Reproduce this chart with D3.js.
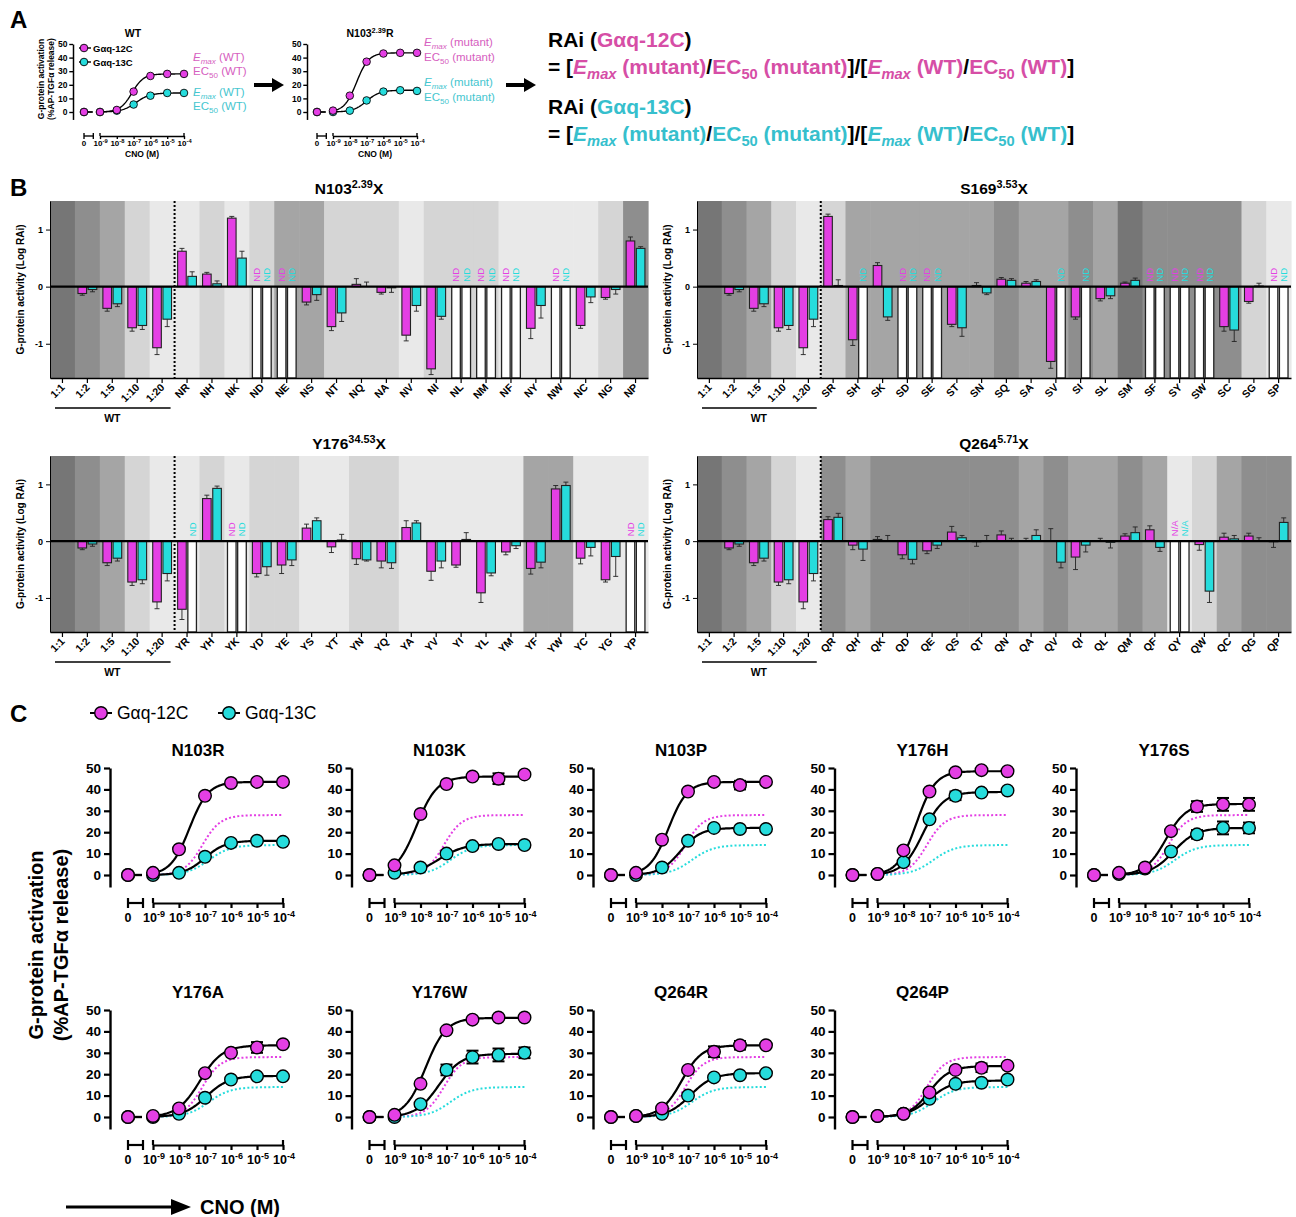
<!DOCTYPE html>
<html><head><meta charset="utf-8">
<script src="https://cdn.jsdelivr.net/npm/d3@7"></script>
<style>body{margin:0;background:#fff}svg{display:block}</style>
</head><body><svg id="fig" width="1296" height="1217"></svg>
<script>
// ================= DATA =================
const doses = [0, 1e-9, 1e-8, 1e-7, 1e-6, 1e-5, 1e-4];
const doseTicks = [1e-9, 1e-8, 1e-7, 1e-6, 1e-5, 1e-4];
const doseExp = ["-9", "-8", "-7", "-6", "-5", "-4"];
const yTicksDR = [0, 10, 20, 30, 40, 50];

// Panel A (WT and N103R concentration-response)
const wt12 = [0, 0, 1.5, 15, 26.5, 28, 28];
const wt13 = [0, 0, 1, 5.5, 12, 14, 14];
const wtTop = [28, 14];          // [12C, 13C]
const wtLogEC50 = [-7.1, -6.85];
const wtHill = [1.25, 1.05];

// Panel B (log RAi)
const wtCats = ["1:1", "1:2", "1:5", "1:10", "1:20"];
const wtRai12 = [0, -0.12, -0.38, -0.72, -1.07];
const wtRai13 = [0, -0.05, -0.30, -0.68, -0.57];
const wtErr12 = [0, 0.03, 0.05, 0.06, 0.12];
const wtErr13 = [0, 0.04, 0.05, 0.07, 0.13];
const wtShade = [0, 1, 2, 3, 4];

const n103Cats = ["NR","NH","NK","ND","NE","NS","NT","NQ","NA","NV","NI","NL","NM","NF","NY","NW","NC","NG","NP"];
const n103R12 = [0.62,0.22,1.20,null,null,-0.27,-0.70,0.04,-0.10,-0.85,-1.44,null,null,null,-0.73,null,-0.68,-0.19,0.80];
const n103R13 = [0.18,0.05,0.50,null,null,-0.14,-0.46,0.00,-0.02,-0.33,-0.52,null,null,null,-0.33,null,-0.18,-0.05,0.67];
const n103E12 = [0.05,0.03,0.03,0,0,0.05,0.07,0.10,0.03,0.10,0.10,0,0,0,0.18,0,0.05,0.03,0.07];
const n103E13 = [0.08,0.05,0.12,0,0,0.10,0.15,0.08,0.08,0.10,0.05,0,0,0,0.22,0,0.10,0.08,0.03];
const n103Shade = [4,3,4,3,2,2,3,3,3,4,3,3,3,4,4,4,4,3,1];

const s169Cats = ["SR","SH","SK","SD","SE","ST","SN","SQ","SA","SV","SI","SL","SM","SF","SY","SW","SC","SG","SP"];
const s169R12 = [1.23,-0.93,0.37,null,null,-0.66,0.02,0.13,0.06,-1.31,-0.53,-0.21,0.06,null,null,null,-0.70,-0.26,null];
const s169R13 = [0.02,null,-0.53,null,null,-0.72,-0.11,0.11,0.09,null,null,-0.16,0.11,null,null,null,-0.76,0.01,null];
const s169E12 = [0.04,0.10,0.05,0,0,0.04,0.05,0.03,0.03,0.12,0.04,0.04,0.02,0,0,0,0.08,0.03,0];
const s169E13 = [0.10,0,0.06,0,0,0.15,0.03,0.03,0.03,0,0,0.05,0.04,0,0,0,0.20,0.05,0];
const s169Shade = [3,2,2,2,2,2,2,1,2,2,1,2,0,1,1,1,1,3,4];

const y176Cats = ["YR","YH","YK","YD","YE","YS","YT","YN","YQ","YA","YV","YI","YL","YM","YF","YW","YC","YG","YP"];
const y176R12 = [-1.20,0.75,null,-0.57,-0.42,0.23,-0.10,-0.31,-0.35,0.24,-0.53,-0.42,-0.91,-0.19,-0.48,0.92,-0.30,-0.68,null];
const y176R13 = [null,0.93,null,-0.45,-0.33,0.36,0.02,-0.33,-0.38,0.32,-0.35,0.03,-0.56,-0.08,-0.37,0.98,-0.11,-0.27,null];
const y176E12 = [0.18,0.06,0,0.06,0.15,0.07,0.10,0.10,0.12,0.12,0.16,0.04,0.17,0.05,0.10,0.06,0.10,0.04,0];
const y176E13 = [0,0.04,0,0.15,0.10,0.05,0.10,0.02,0.10,0.04,0.12,0.12,0.05,0.05,0.10,0.06,0.15,0.35,0];
const y176Shade = [4,3,4,3,3,4,4,3,3,4,4,4,4,4,2,2,4,4,4];

const q264Cats = ["QR","QH","QK","QD","QE","QS","QT","QN","QA","QV","QI","QL","QM","QF","QY","QW","QC","QG","QP"];
const q264R12 = [0.38,-0.07,0.03,-0.24,-0.17,0.16,-0.01,0.11,0.00,0.00,-0.28,0.00,0.09,0.20,null,-0.06,0.07,0.09,-0.01];
const q264R13 = [0.42,-0.14,0.00,-0.32,-0.07,0.06,0.00,0.00,0.10,-0.37,-0.07,-0.02,0.15,-0.11,null,-0.88,0.04,0.01,0.33];
const q264E12 = [0.05,0.08,0.05,0.07,0.05,0.10,0.08,0.07,0.05,0.22,0.22,0.05,0.04,0.07,0,0.10,0.07,0.05,0.10];
const q264E13 = [0.07,0.20,0.10,0.08,0.06,0.04,0.10,0.05,0.10,0.10,0.12,0.10,0.10,0.07,0,0.20,0.06,0.05,0.08];
const q264Shade = [1,2,1,1,1,1,1,1,2,1,2,2,1,2,4,3,2,1,1];

// Panel C (concentration-response of selected mutants)
const cTitles = ["N103R","N103K","N103P","Y176H","Y176S","Y176A","Y176W","Q264R","Q264P"];
const c12 = [
  [0,1,12,37,43,43.5,43.5],
  [0,4.5,28.5,42.5,46,45,47],
  [0,1,16.5,39,43.5,42,43.5],
  [0,0.5,11.5,39,48,49,48.5],
  [0,1,3.5,20.5,32,33,33],
  [0,0.5,4,20.5,30,32.5,34],
  [0,1,15.5,40.5,45.5,46.5,46.5],
  [0,0.5,4,22,30.5,33.5,33.5],
  [0,0.5,1.5,11.5,22,23,24]];
const c12Err = [
  [0,0,0,0,0,0,0],
  [0,0,0,0,0,2.5,0],
  [0,0,0,0,0,2,0],
  [0,0,0,0,0,0,0],
  [0,0,0,0,2.5,3,3],
  [0,0,0,0,0,2.5,0],
  [0,0,0,0,0,0,0],
  [0,0,0,0,2.5,2,0],
  [0,0,0,0,0,2,0]];
const c13 = [
  [0,0,1,8.5,15,16,15.5],
  [0,1,3.5,10,13.5,14.5,14],
  [0,0,3.5,16,22,21.5,21.5],
  [0,0.5,6,26,37,38.5,39.5],
  [0,0.5,3,11,19,22,22],
  [0,0,1.5,9,17.5,19,19],
  [0,0,6,22,28,29,30],
  [0,0.5,1.5,10,18.5,19.5,20.5],
  [0,0.5,1.5,8.5,15.5,16,17.5]];
const c13Err = [
  [0,0,0,0,0,0,0],
  [0,0,0,0,0,0,0],
  [0,0,0,0,0,0,0],
  [0,0,0,0,2,0,0],
  [0,0,0,0,2,3,2.5],
  [0,0,0,0,0,0,0],
  [0,0,0,2.5,3,3,2.5],
  [0,0,0,0,0,0,0],
  [0,0,0,0,0,0,0]];
const c12Top = [43.5,46,43.5,48.5,33.2,33.5,46.3,33.5,23.8];
const c12LogEC50 = [-7.6,-8.15,-7.75,-7.5,-7.2,-7.2,-7.8,-7.25,-7.0];
const c12Hill = [1.2,1.1,1.2,1.2,1.1,1.0,1.1,1.1,1.1];
const c13Top = [16,14.5,22,38.8,22,19.2,29.5,20.5,17];
const c13LogEC50 = [-7.0,-7.3,-7.3,-7.25,-6.9,-6.95,-7.3,-6.9,-7.0];
const c13Hill = [1.1,0.9,1.1,1.1,1.0,1.0,1.0,1.0,1.0];

// ================= STYLE =================
const FONT = "'Liberation Sans', Arial, Helvetica, sans-serif";
const MAG = "#e43fe4", CYA = "#26dcdc";
const MAG_T = "#d64ea6", CYA_T = "#36bfcd";
const MAG_A = "#d660c0", CYA_A = "#45c6cf";
const shadeColor = d3.scaleOrdinal().domain([0,1,2,3,4]).range(["#767676","#8e8e8e","#a5a5a5","#d5d5d5","#e9e9e9"]);

const svg = d3.select("#fig").attr("font-family", FONT);
svg.append("rect").attr("width", 1296).attr("height", 1217).attr("fill", "#fff");

function richText(parent, x, y, parts, size, attrs) {
  const t = parent.append("text").attr("x", x).attr("y", y).attr("font-size", size);
  if (attrs) for (const k in attrs) t.attr(k, attrs[k]);
  let shift = 0;
  parts.forEach(p => {
    const s = t.append("tspan").text(p.t);
    let target = 0;
    if (p.sub) target = size * 0.22;
    if (p.sup) target = -size * 0.4;
    const dy = target - shift;
    if (dy !== 0) s.attr("dy", dy);
    shift = target;
    if (p.sub || p.sup) s.attr("font-size", size * (p.scale || 0.65));
    if (p.c) s.attr("fill", p.c);
    if (p.i) s.attr("font-style", "italic");
  });
  return t;
}

function fitPoints(top, logEC50, hill) {
  const pts = [];
  for (let l = -9; l <= -4.0001 + 1e-9; l += 0.05) {
    pts.push([Math.pow(10, l), top / (1 + Math.pow(10, (logEC50 - l) * hill))]);
  }
  pts.push([1e-4, top / (1 + Math.pow(10, (logEC50 + 4) * hill))]);
  return pts;
}

function arrow(g, x1, x2, y, w, hw, hl) {
  g.append("line").attr("x1", x1).attr("x2", x2 - hl + 1).attr("y1", y).attr("y2", y)
    .attr("stroke", "#000").attr("stroke-width", w);
  g.append("path").attr("d", `M${x2},${y} L${x2 - hl},${y - hw} L${x2 - hl},${y + hw} Z`).attr("fill", "#000");
}

// ---------- dose response plot ----------
function drPlot(o) {
  const g = svg.append("g");
  const s = o.s;
  const y = d3.scaleLinear().domain([0, 50]).range([o.y0, o.y50]);
  const x = d3.scaleLog().domain([1e-9, 1e-4]).range([o.x9, o.x4]);
  const yLowPx = o.y0 + 12 * s;
  const yAx = d3.scaleLinear().domain([y.invert(yLowPx), 50]).range([yLowPx, o.y50]);
  const ya = g.append("g").attr("transform", `translate(${o.ax},0)`)
    .call(d3.axisLeft(yAx).tickValues(yTicksDR).tickSize(6 * s).tickSizeOuter(0).tickPadding(3 * s).tickFormat(d => d));
  ya.select(".domain").attr("stroke-width", 2.4 * s);
  ya.selectAll(".tick line").attr("stroke-width", 2.2 * s);
  ya.selectAll(".tick text").attr("font-size", o.yFont).attr("font-weight", "bold").attr("font-family", FONT).attr("fill", "#000");

  const xa = g.append("g").attr("transform", `translate(0,${o.xAxY})`)
    .call(d3.axisBottom(x).tickValues(doseTicks).tickSize(5 * s).tickSizeOuter(0).tickFormat(""));
  xa.select(".domain").attr("stroke-width", 2.2 * s);
  xa.selectAll(".tick line").attr("stroke-width", 2.2 * s);
  [o.x9, o.x4].forEach(xx => g.append("line").attr("x1", xx).attr("x2", xx).attr("y1", o.xAxY - 5 * s).attr("y2", o.xAxY)
    .attr("stroke", "#000").attr("stroke-width", 2.2 * s));
  const bx2 = o.x0 + 15 * s;
  g.append("line").attr("x1", o.x0).attr("x2", bx2).attr("y1", o.xAxY).attr("y2", o.xAxY).attr("stroke", "#000").attr("stroke-width", 2.2 * s);
  [o.x0, bx2].forEach(xx => g.append("line").attr("x1", xx).attr("x2", xx).attr("y1", o.xAxY - 5 * s).attr("y2", o.xAxY + 5 * s)
    .attr("stroke", "#000").attr("stroke-width", 2.2 * s));
  const lb = o.xAxY + o.xLabOff;
  g.append("text").attr("x", o.x0).attr("y", lb).attr("text-anchor", "middle").attr("font-size", o.xFont).attr("font-weight", "bold").text("0");
  doseTicks.forEach((d, i) => {
    richText(g, x(d) + 1 * s, lb, [{t: "10"}, {t: doseExp[i], sup: true, scale: 0.72}], o.xFont,
      {"text-anchor": "middle", "font-weight": "bold"});
  });
  if (o.xTitle) {
    g.append("text").attr("x", (o.x9 + o.x4) / 2).attr("y", o.xTitleY).attr("text-anchor", "middle")
      .attr("font-size", o.xTitleSize).attr("font-weight", "bold").text("CNO (M)");
  }
  richText(g, o.titleX, o.titleY, o.title, o.titleSize, {"text-anchor": "middle", "font-weight": "bold"});

  const line = d3.line().x(d => x(d[0])).y(d => y(d[1]));
  (o.refs || []).forEach(r => {
    g.append("path").attr("d", line(fitPoints(r.top, r.ec, r.hill))).attr("fill", "none")
      .attr("stroke", r.color).attr("stroke-width", 2 * s).attr("stroke-dasharray", `${2 * s},${2.2 * s}`);
  });
  o.series.forEach(sr => {
    g.append("path").attr("d", line(fitPoints(sr.top, sr.ec, sr.hill))).attr("fill", "none")
      .attr("stroke", "#000").attr("stroke-width", 2.2 * s);
    g.append("line").attr("x1", o.x0).attr("x2", bx2 - 1 * s).attr("y1", y(sr.vals[0])).attr("y2", y(sr.vals[0]))
      .attr("stroke", "#000").attr("stroke-width", 2.2 * s);
  });
  const px = (d) => d === 0 ? o.x0 : x(d);
  o.series.forEach(sr => {
    sr.vals.forEach((v, i) => {
      const e = sr.err ? sr.err[i] : 0;
      if (e > 0) {
        const cx = px(doses[i]);
        g.append("line").attr("x1", cx).attr("x2", cx).attr("y1", y(v - e)).attr("y2", y(v + e)).attr("stroke", "#000").attr("stroke-width", 2 * s);
        [v - e, v + e].forEach(vv => g.append("line").attr("x1", cx - 6 * s).attr("x2", cx + 6 * s).attr("y1", y(vv)).attr("y2", y(vv))
          .attr("stroke", "#000").attr("stroke-width", 2 * s));
      }
    });
  });
  o.series.forEach(sr => {
    sr.vals.forEach((v, i) => {
      g.append("circle").attr("cx", px(doses[i])).attr("cy", y(v)).attr("r", o.r)
        .attr("fill", sr.color).attr("stroke", "#000").attr("stroke-width", 1.4 * s);
    });
  });
  return g;
}

// ================= PANEL A =================
svg.append("text").attr("x", 10).attr("y", 28).attr("font-size", 24).attr("font-weight", "bold").text("A");

const aCommon = {s: 0.62, y0: 112, y50: 44, xAxY: 136, xLabOff: 10, yFont: 8.5, xFont: 8, r: 3.8,
  titleY: 37, titleSize: 10.5, xTitle: true, xTitleY: 157, xTitleSize: 8.5};
drPlot(Object.assign({}, aCommon, {ax: 73, x0: 84, x9: 100, x4: 184, titleX: 133, title: [{t: "WT"}],
  series: [
    {vals: wt13, color: CYA, top: wtTop[1], ec: wtLogEC50[1], hill: wtHill[1]},
    {vals: wt12, color: MAG, top: wtTop[0], ec: wtLogEC50[0], hill: wtHill[0]}]}));
drPlot(Object.assign({}, aCommon, {ax: 307, x0: 317, x9: 333, x4: 417, titleX: 370,
  title: [{t: "N103"}, {t: "2.39", sup: true, scale: 0.7}, {t: "R"}],
  series: [
    {vals: c13[0], color: CYA, top: c13Top[0], ec: c13LogEC50[0], hill: c13Hill[0]},
    {vals: c12[0], color: MAG, top: c12Top[0], ec: c12LogEC50[0], hill: c12Hill[0]}]}));

const aYl = svg.append("g").attr("font-weight", "bold").attr("font-size", 8.5).attr("text-anchor", "middle");
aYl.append("text").attr("transform", "translate(44,79) rotate(-90)").text("G-protein activation");
aYl.append("text").attr("transform", "translate(54,79) rotate(-90)").text("(%AP-TGFα release)");

[[MAG, "Gαq-12C", 48], [CYA, "Gαq-13C", 62]].forEach(([c, t, yy]) => {
  svg.append("line").attr("x1", 79).attr("x2", 91).attr("y1", yy).attr("y2", yy).attr("stroke", "#000").attr("stroke-width", 1.4);
  svg.append("circle").attr("cx", 84).attr("cy", yy).attr("r", 3.8).attr("fill", c).attr("stroke", "#000").attr("stroke-width", 0.9);
  svg.append("text").attr("x", 93).attr("y", yy + 3.5).attr("font-size", 9.5).attr("font-weight", "bold").text(t);
});

function emaxParts(label, c) { return [{t: "E", i: true, c}, {t: "max", i: true, sub: true, c, scale: 0.7}, {t: " (" + label + ")", c}]; }
function ec50Parts(label, c) { return [{t: "EC", c}, {t: "50", sub: true, c, scale: 0.7}, {t: " (" + label + ")", c}]; }
richText(svg, 193, 61, emaxParts("WT", MAG_A), 11.5);
richText(svg, 193, 75, ec50Parts("WT", MAG_A), 11.5);
richText(svg, 193, 96, emaxParts("WT", CYA_A), 11.5);
richText(svg, 193, 110, ec50Parts("WT", CYA_A), 11.5);
richText(svg, 424, 46, emaxParts("mutant", MAG_A), 11.5);
richText(svg, 424, 61, ec50Parts("mutant", MAG_A), 11.5);
richText(svg, 424, 86, emaxParts("mutant", CYA_A), 11.5);
richText(svg, 424, 101, ec50Parts("mutant", CYA_A), 11.5);

arrow(svg, 254, 284, 85, 4, 7, 12);
arrow(svg, 506, 536, 85, 4, 7, 12);

function eqParts(c) {
  return [{t: "= ["},
    {t: "E", i: true, c}, {t: "max", i: true, sub: true, c, scale: 0.7}, {t: " (mutant)", c}, {t: "/"},
    {t: "EC", c}, {t: "50", sub: true, c, scale: 0.7}, {t: " (mutant)", c}, {t: "]/["},
    {t: "E", i: true, c}, {t: "max", i: true, sub: true, c, scale: 0.7}, {t: " (WT)", c}, {t: "/"},
    {t: "EC", c}, {t: "50", sub: true, c, scale: 0.7}, {t: " (WT)", c}, {t: "]"}];
}
const eqSize = 21;
richText(svg, 548, 47, [{t: "RAi ("}, {t: "Gαq-12C", c: MAG_T}, {t: ")"}], eqSize, {"font-weight": "bold"});
richText(svg, 548, 74, eqParts(MAG_T), eqSize, {"font-weight": "bold"});
richText(svg, 548, 114, [{t: "RAi ("}, {t: "Gαq-13C", c: CYA_T}, {t: ")"}], eqSize, {"font-weight": "bold"});
richText(svg, 548, 141, eqParts(CYA_T), eqSize, {"font-weight": "bold"});

// ================= PANEL B =================
svg.append("text").attr("x", 10).attr("y", 196).attr("font-size", 24).attr("font-weight", "bold").text("B");

function barPanel(o) {
  const g = svg.append("g");
  const cats = wtCats.concat(o.cats);
  const v12 = wtRai12.concat(o.r12), v13 = wtRai13.concat(o.r13);
  const e12 = wtErr12.concat(o.e12), e13 = wtErr13.concat(o.e13);
  const shade = wtShade.concat(o.shade);
  const x = d3.scaleBand().domain(cats).range([o.left, o.right]);
  const y = d3.scaleLinear().domain([-1.6, 1.5]).range([o.bottom, o.top]);
  const bw = x.bandwidth();
  g.selectAll("rect.bg").data(cats).enter().append("rect")
    .attr("x", d => x(d)).attr("y", o.top).attr("width", bw + 0.6).attr("height", o.bottom - o.top)
    .attr("fill", (d, i) => shadeColor(shade[i]));
  const barW = 8.6, gap = 0.8;
  const drawBar = (val, err, cx, col, isLeft) => {
    const bx = isLeft ? cx - gap - barW : cx + gap;
    if (val === null) {
      g.append("rect").attr("x", bx).attr("y", y(0)).attr("width", barW).attr("height", y(-1.6) - y(0))
        .attr("fill", "#fff").attr("stroke", "#222").attr("stroke-width", 1.3);
      g.append("text").attr("transform", `translate(${bx + barW / 2 + 3.4},${y(0) - 5}) rotate(-90)`)
        .attr("font-size", 9.5).attr("fill", isLeft ? MAG : CYA).text(o.naText);
      return;
    }
    const y1 = Math.min(y(val), y(0)), h = Math.abs(y(val) - y(0));
    if (err > 0) {
      const ve = val >= 0 ? val + err : val - err;
      g.append("line").attr("x1", bx + barW / 2).attr("x2", bx + barW / 2).attr("y1", y(val)).attr("y2", y(ve))
        .attr("stroke", "#222").attr("stroke-width", 0.9);
      g.append("line").attr("x1", bx + barW / 2 - 2.5).attr("x2", bx + barW / 2 + 2.5).attr("y1", y(ve)).attr("y2", y(ve))
        .attr("stroke", "#222").attr("stroke-width", 0.9);
    }
    g.append("rect").attr("x", bx).attr("y", y1).attr("width", barW).attr("height", h)
      .attr("fill", col).attr("stroke", "#222").attr("stroke-width", 1.1);
  };
  cats.forEach((c, i) => {
    const cx = x(c) + bw / 2;
    drawBar(v12[i], e12[i], cx, MAG, true);
    drawBar(v13[i], e13[i], cx, CYA, false);
  });
  g.append("line").attr("x1", o.left).attr("x2", o.right).attr("y1", y(0)).attr("y2", y(0)).attr("stroke", "#000").attr("stroke-width", 2.2);
  const sx = x(cats[5]);
  g.append("line").attr("x1", sx).attr("x2", sx).attr("y1", o.top).attr("y2", o.bottom)
    .attr("stroke", "#000").attr("stroke-width", 2).attr("stroke-dasharray", "2,2");
  const ya = g.append("g").attr("transform", `translate(${o.left},0)`)
    .call(d3.axisLeft(y).tickValues([-1, 0, 1]).tickSize(4).tickSizeOuter(0).tickFormat(d => String(d)));
  ya.select(".domain").attr("stroke-width", 1);
  ya.selectAll(".tick text").attr("font-size", 9).attr("font-weight", "bold").attr("font-family", FONT);
  const xa = g.append("g").attr("transform", `translate(0,${o.bottom})`)
    .call(d3.axisBottom(x).tickSize(5).tickSizeOuter(0).tickFormat(""));
  xa.select(".domain").attr("stroke-width", 1.4);
  xa.selectAll(".tick line").attr("stroke-width", 1.2);
  cats.forEach(c => {
    g.append("text").attr("transform", `translate(${x(c) + bw / 2 + 3},${o.bottom + 10}) rotate(-45)`)
      .attr("text-anchor", "end").attr("font-size", 10.5).attr("font-weight", "bold").text(c);
  });
  g.append("line").attr("x1", o.left + 5).attr("x2", sx - 4).attr("y1", o.bottom + 30).attr("y2", o.bottom + 30)
    .attr("stroke", "#000").attr("stroke-width", 1.4);
  g.append("text").attr("x", (o.left + sx) / 2).attr("y", o.bottom + 44).attr("text-anchor", "middle")
    .attr("font-size", 10.5).attr("font-weight", "bold").text("WT");
  g.append("text").attr("transform", `translate(${o.left - 26},${(o.top + o.bottom) / 2}) rotate(-90)`)
    .attr("text-anchor", "middle").attr("font-size", 10).attr("font-weight", "bold").text("G-protein activity (Log RAi)");
  richText(g, (o.left + o.right) / 2, o.top - 7, o.title, 15.5, {"text-anchor": "middle", "font-weight": "bold"});
}

barPanel({left: 50, right: 648, top: 201, bottom: 378, cats: n103Cats, r12: n103R12, r13: n103R13, e12: n103E12, e13: n103E13,
  shade: n103Shade, naText: "ND", title: [{t: "N103"}, {t: "2.39", sup: true, scale: 0.7}, {t: "X"}]});
barPanel({left: 697, right: 1291, top: 201, bottom: 378, cats: s169Cats, r12: s169R12, r13: s169R13, e12: s169E12, e13: s169E13,
  shade: s169Shade, naText: "ND", title: [{t: "S169"}, {t: "3.53", sup: true, scale: 0.7}, {t: "X"}]});
barPanel({left: 50, right: 648, top: 456, bottom: 632, cats: y176Cats, r12: y176R12, r13: y176R13, e12: y176E12, e13: y176E13,
  shade: y176Shade, naText: "ND", title: [{t: "Y176"}, {t: "34.53", sup: true, scale: 0.7}, {t: "X"}]});
barPanel({left: 697, right: 1291, top: 456, bottom: 632, cats: q264Cats, r12: q264R12, r13: q264R13, e12: q264E12, e13: q264E13,
  shade: q264Shade, naText: "N/A", title: [{t: "Q264"}, {t: "5.71", sup: true, scale: 0.7}, {t: "X"}]});

// ================= PANEL C =================
svg.append("text").attr("x", 10).attr("y", 722).attr("font-size", 24).attr("font-weight", "bold").text("C");
[[MAG, "Gαq-12C", 101], [CYA, "Gαq-13C", 229]].forEach(([c, t, xx]) => {
  svg.append("line").attr("x1", xx - 11).attr("x2", xx + 11).attr("y1", 713).attr("y2", 713).attr("stroke", "#000").attr("stroke-width", 2);
  svg.append("circle").attr("cx", xx).attr("cy", 713).attr("r", 6.3).attr("fill", c).attr("stroke", "#000").attr("stroke-width", 1.4);
  svg.append("text").attr("x", xx + 16).attr("y", 719).attr("font-size", 17.5).text(t);
});

const cAxX = [110, 351.5, 593, 834.5, 1076];
const cRowY0 = [875, 1117];
cTitles.forEach((t, k) => {
  const row = k < 5 ? 0 : 1, col = k < 5 ? k : k - 5;
  const ax = cAxX[col], y0 = cRowY0[row];
  drPlot({s: 1, ax, y0, y50: y0 - 107, x0: ax + 18, x9: ax + 43, x4: ax + 173, xAxY: y0 + 28, xLabOff: 19,
    yFont: 13.5, xFont: 12.5, r: 6.3, titleX: ax + 88, titleY: y0 - 119, titleSize: 17, title: [{t}],
    refs: [{top: wtTop[0], ec: wtLogEC50[0], hill: wtHill[0], color: MAG}, {top: wtTop[1], ec: wtLogEC50[1], hill: wtHill[1], color: CYA}],
    series: [
      {vals: c13[k], err: c13Err[k], color: CYA, top: c13Top[k], ec: c13LogEC50[k], hill: c13Hill[k]},
      {vals: c12[k], err: c12Err[k], color: MAG, top: c12Top[k], ec: c12LogEC50[k], hill: c12Hill[k]}]});
});

const cYl = svg.append("g").attr("font-weight", "bold").attr("font-size", 20).attr("text-anchor", "middle");
cYl.append("text").attr("transform", "translate(43,945) rotate(-90)").text("G-protein activation");
cYl.append("text").attr("transform", "translate(68,945) rotate(-90)").text("(%AP-TGFα release)");
arrow(svg, 66, 191, 1207, 3, 8, 20);
svg.append("text").attr("x", 200).attr("y", 1214).attr("font-size", 20).attr("font-weight", "bold").text("CNO (M)");
</script></body></html>
